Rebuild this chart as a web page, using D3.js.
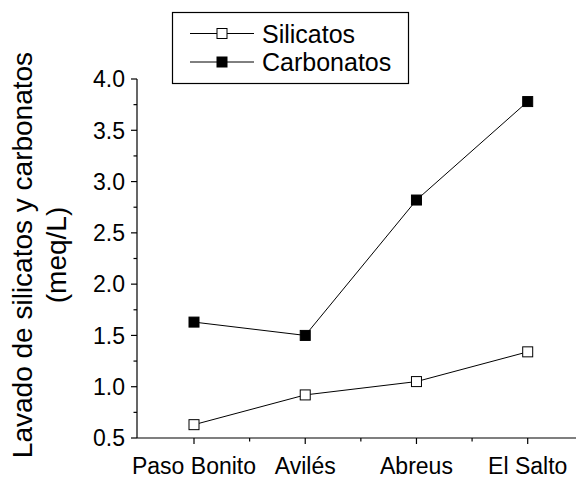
<!DOCTYPE html>
<html><head><meta charset="utf-8">
<script src="https://cdn.jsdelivr.net/npm/d3@7"></script>
<style>body{margin:0;background:#fff}svg{display:block}text{font-family:"Liberation Sans",Arial,sans-serif;fill:#000}</style>
</head><body><svg id="c" width="576" height="478"></svg>
<script>
const categories = ["Paso Bonito", "Avilés", "Abreus", "El Salto"];
const silicatos = [0.63, 0.92, 1.05, 1.34];
const carbonatos = [1.63, 1.50, 2.82, 3.78];
const yTicks = [0.5, 1.0, 1.5, 2.0, 2.5, 3.0, 3.5, 4.0];
const seriesNames = ["Silicatos", "Carbonatos"];

const svg = d3.select("#c");
const x = d3.scaleLinear().domain([1, 4]).range([194, 527.7]);
const y = d3.scaleLinear().domain([0.5, 4.0]).range([438, 79]);
const x0 = 137, y0 = 438;

// Y axis
const gy = svg.append("g").attr("transform", `translate(${x0},0)`);
gy.append("line").attr("x1",0).attr("x2",0).attr("y1",y(0.5)).attr("y2",y(4.0)).attr("stroke","#000").attr("stroke-width",1.2);
const minorY = d3.range(0.75, 4.0, 0.5);
gy.selectAll(".mj").data(yTicks).join("line").attr("x1",-6).attr("x2",0).attr("y1",d=>y(d)).attr("y2",d=>y(d)).attr("stroke","#000").attr("stroke-width",1.2);
gy.selectAll(".mn").data(minorY).join("line").attr("x1",-3.5).attr("x2",0).attr("y1",d=>y(d)).attr("y2",d=>y(d)).attr("stroke","#000").attr("stroke-width",1.2);
gy.selectAll(".tl").data(yTicks).join("text").attr("x",-12).attr("y",d=>y(d)).attr("dy","0.36em").attr("text-anchor","end").attr("font-size",23).text(d=>d.toFixed(1));

// X axis
const gx = svg.append("g").attr("transform", `translate(0,${y0})`);
gx.append("line").attr("x1",x0).attr("x2",x(4.5)).attr("y1",0).attr("y2",0).attr("stroke","#000").attr("stroke-width",1.2);
gx.selectAll(".mj").data(categories).join("line").attr("x1",(d,i)=>x(i+1)).attr("x2",(d,i)=>x(i+1)).attr("y1",0).attr("y2",6).attr("stroke","#000").attr("stroke-width",1.2);
gx.selectAll(".mn").data([1.5,2.5,3.5]).join("line").attr("x1",d=>x(d)).attr("x2",d=>x(d)).attr("y1",0).attr("y2",3.5).attr("stroke","#000").attr("stroke-width",1.2);
gx.selectAll(".tl").data(categories).join("text").attr("x",(d,i)=>x(i+1)).attr("y",36).attr("text-anchor","middle").attr("font-size",23).text(d=>d);

// Y title
const yt = svg.append("text").attr("transform","translate(0,255) rotate(-90)").attr("text-anchor","middle").attr("font-size",28);
yt.append("tspan").attr("x",0).attr("y",32).text("Lavado de silicatos y carbonatos");
yt.append("tspan").attr("x",0).attr("y",66).text("(meq/L)");

// Series
const line = d3.line().x((d,i)=>x(i+1)).y(d=>y(d));
const series = [{vals: silicatos, fill: "#fff"}, {vals: carbonatos, fill: "#000"}];
series.forEach(s => {
  svg.append("path").attr("d", line(s.vals)).attr("fill","none").attr("stroke","#000").attr("stroke-width",1);
  svg.selectAll(null).data(s.vals).join("rect")
    .attr("x",(d,i)=>x(i+1)-5).attr("y",d=>y(d)-5).attr("width",10).attr("height",10)
    .attr("fill",s.fill).attr("stroke","#000").attr("stroke-width",1);
});

// Legend
const lg = svg.append("g");
lg.append("rect").attr("x",172.5).attr("y",12.5).attr("width",236).attr("height",71).attr("fill","#fff").attr("stroke","#000").attr("stroke-width",1.2);
const rowsY = [33.5, 62];
seriesNames.forEach((n,i)=>{
  lg.append("line").attr("x1",190).attr("x2",254).attr("y1",rowsY[i]).attr("y2",rowsY[i]).attr("stroke","#000").attr("stroke-width",1);
  lg.append("rect").attr("x",217).attr("y",rowsY[i]-5).attr("width",10).attr("height",10).attr("fill",series[i].fill).attr("stroke","#000").attr("stroke-width",1);
  lg.append("text").attr("x",262).attr("y",rowsY[i]).attr("dy","0.36em").attr("font-size",25).text(n);
});
</script></body></html>
